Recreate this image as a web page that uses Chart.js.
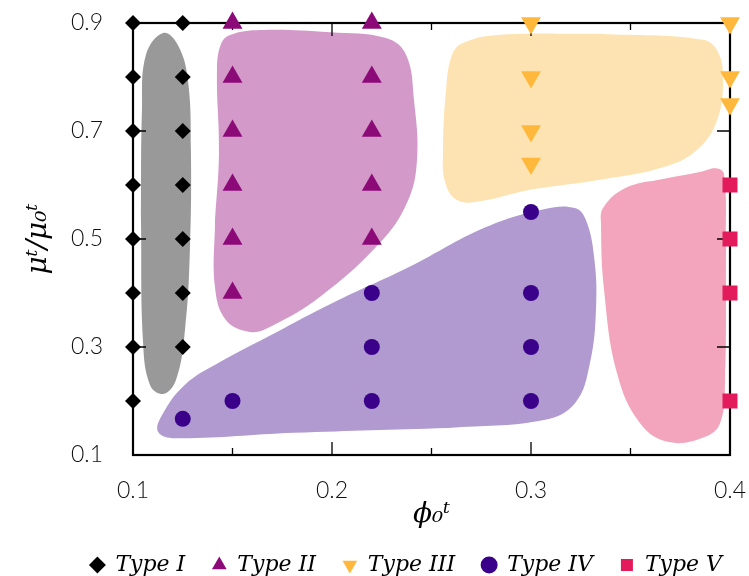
<!DOCTYPE html>
<html>
<head>
<meta charset="utf-8">
<script src="https://cdn.jsdelivr.net/npm/chart.js@4/dist/chart.umd.min.js"></script>
<style>
  html, body { margin: 0; padding: 0; background: #fff; overflow: hidden; }
  #wrap { width: 749px; height: 576px; position: relative; }
</style>
</head>
<body>
<div id="wrap"><canvas id="c"></canvas></div>
<script>
// ---- series (marker) data ----
const seriesNames = ['Type I', 'Type II', 'Type III', 'Type IV', 'Type V'];

const typeIX = [0.1, 0.1, 0.1, 0.1, 0.1, 0.1, 0.1, 0.1, 0.125, 0.125, 0.125, 0.125, 0.125, 0.125, 0.125];
const typeIY = [0.9, 0.8, 0.7, 0.6, 0.5, 0.4, 0.3, 0.2, 0.9, 0.8, 0.7, 0.6, 0.5, 0.4, 0.3];

const typeIIX = [0.15, 0.15, 0.15, 0.15, 0.15, 0.15, 0.22, 0.22, 0.22, 0.22, 0.22];
const typeIIY = [0.9, 0.8, 0.7, 0.6, 0.5, 0.4, 0.9, 0.8, 0.7, 0.6, 0.5];

const typeIIIX = [0.3, 0.3, 0.3, 0.3, 0.4, 0.4, 0.4];
const typeIIIY = [0.9, 0.8, 0.7, 0.64, 0.9, 0.8, 0.75];

const typeIVX = [0.125, 0.15, 0.22, 0.22, 0.22, 0.3, 0.3, 0.3, 0.3];
const typeIVY = [0.167, 0.2, 0.4, 0.3, 0.2, 0.55, 0.4, 0.3, 0.2];

const typeVX = [0.4, 0.4, 0.4, 0.4];
const typeVY = [0.6, 0.5, 0.4, 0.2];

// ---- shaded region outlines (data coordinates) ----
const regionIX = [0.1040, 0.1045, 0.1065, 0.1151, 0.1226, 0.1276, 0.1291, 0.1286, 0.1261, 0.1216, 0.1151, 0.1085, 0.1050, 0.1040];
const regionIY = [0.535, 0.739, 0.841, 0.8815, 0.859, 0.794, 0.665, 0.480, 0.331, 0.239, 0.213, 0.230, 0.313, 0.535];

const regionIIX = [0.1412, 0.1432, 0.1422, 0.1442, 0.1487, 0.1638, 0.199, 0.2271, 0.2372, 0.2412, 0.2427, 0.2377, 0.2241, 0.194, 0.1688, 0.1588, 0.1467, 0.1412, 0.1412];
const regionIIY = [0.535, 0.659, 0.813, 0.861, 0.8778, 0.887, 0.883, 0.872, 0.841, 0.757, 0.646, 0.567, 0.493, 0.393, 0.337, 0.328, 0.350, 0.411, 0.535];

const regionIIIX = [0.3347, 0.3864, 0.3940, 0.3965, 0.3935, 0.3834, 0.3663, 0.3332, 0.2995, 0.2744, 0.2628, 0.2568, 0.2558, 0.2573, 0.2603, 0.2658, 0.2829, 0.3347];
const regionIIIY = [0.880, 0.869, 0.846, 0.794, 0.720, 0.665, 0.633, 0.609, 0.591, 0.570, 0.572, 0.606, 0.665, 0.776, 0.841, 0.863, 0.878, 0.880];

const regionIVX = [0.2583, 0.3065, 0.3221, 0.3296, 0.3327, 0.3317, 0.3276, 0.3221, 0.3070, 0.2774, 0.2387, 0.2, 0.1714, 0.1437, 0.1261, 0.1146, 0.1126, 0.1211, 0.1809, 0.2583];
const regionIVY = [0.150, 0.165, 0.196, 0.270, 0.374, 0.467, 0.535, 0.5574, 0.5556, 0.522, 0.448, 0.381, 0.326, 0.272, 0.230, 0.174, 0.143, 0.131, 0.141, 0.150];

const regionVX = [0.3980, 0.3975, 0.3950, 0.3869, 0.3693, 0.3548, 0.3432, 0.3367, 0.3352, 0.3362, 0.3472, 0.3663, 0.3849, 0.3930, 0.3970, 0.3980];
const regionVY = [0.480, 0.239, 0.159, 0.133, 0.124, 0.159, 0.252, 0.406, 0.526, 0.5574, 0.594, 0.611, 0.624, 0.631, 0.620, 0.480];

// ---- axes ----
const xTickValues = [0.1, 0.2, 0.3, 0.4];
const xMinorTickValues = [0.15, 0.25, 0.35];
const yTickValues = [0.1, 0.3, 0.5, 0.7, 0.9];
const xTitle = 'ϕ₀ᵗ';
const yTitle = 'μᵗ/μ₀ᵗ';

const toPts = (xs, ys) => xs.map((x, i) => ({ x: x, y: ys[i] }));

const markerColors = ['#000000', '#8c0a78', '#ffb83c', '#3a008a', '#e31a5c'];
const regionColors = ['#999999', '#d399c9', '#fde3b1', '#b09ad0', '#f2a5bd'];

function region(xs, ys, color) {
  return {
    type: 'line',
    data: toPts(xs, ys),
    showLine: true,
    fill: 'shape',
    backgroundColor: color,
    borderColor: 'rgba(0,0,0,0)',
    borderWidth: 0,
    pointRadius: 0,
    pointHoverRadius: 0,
    tension: 0.4,
    order: 10
  };
}
function markers(label, xs, ys, color, style, radius, rotation) {
  return {
    type: 'scatter',
    label: label,
    data: toPts(xs, ys),
    backgroundColor: color,
    borderColor: color,
    borderWidth: 0,
    pointStyle: style,
    pointRadius: radius,
    pointHoverRadius: radius,
    pointRotation: rotation,
    clip: false,
    order: 0
  };
}

const framePlugin = {
  id: 'frameTicks',
  beforeDatasetsDraw(chart) { chart.$frameDone = false; },
  beforeDatasetDraw(chart, args) {
    if (chart.$frameDone || chart.data.datasets[args.index].type !== 'scatter') return;
    chart.$frameDone = true;
    const { ctx, chartArea: a, scales } = chart;
    const xs = scales.x, ys = scales.y;
    ctx.save();
    ctx.strokeStyle = '#000';
    ctx.lineWidth = 1.3;
    ctx.beginPath();
    xTickValues.forEach(v => {
      const p = xs.getPixelForValue(v);
      ctx.moveTo(p, a.bottom); ctx.lineTo(p, a.bottom - 13);
      ctx.moveTo(p, a.top); ctx.lineTo(p, a.top + 13);
    });
    xMinorTickValues.forEach(v => {
      const p = xs.getPixelForValue(v);
      ctx.moveTo(p, a.bottom); ctx.lineTo(p, a.bottom - 7);
      ctx.moveTo(p, a.top); ctx.lineTo(p, a.top + 7);
    });
    yTickValues.forEach(v => {
      const p = ys.getPixelForValue(v);
      ctx.moveTo(a.left, p); ctx.lineTo(a.left + 13, p);
      ctx.moveTo(a.right, p); ctx.lineTo(a.right - 13, p);
    });
    ctx.stroke();
    ctx.lineWidth = 2.2;
    ctx.strokeRect(a.left, a.top, a.right - a.left, a.bottom - a.top);
    ctx.restore();
  }
};

const tickFont = { family: 'Lato', size: 23, weight: '300' };
const mathFont = { family: 'DejaVu Serif', size: 28, style: 'italic' };

new Chart(document.getElementById('c'), {
  type: 'scatter',
  data: {
    datasets: [
      region(regionIX, regionIY, regionColors[0]),
      region(regionIIX, regionIIY, regionColors[1]),
      region(regionIIIX, regionIIIY, regionColors[2]),
      region(regionIVX, regionIVY, regionColors[3]),
      region(regionVX, regionVY, regionColors[4]),
      markers(seriesNames[0], typeIX, typeIY, markerColors[0], 'rectRot', 8, 0),
      markers(seriesNames[1], typeIIX, typeIIY, markerColors[1], 'triangle', 11.5, 0),
      markers(seriesNames[2], typeIIIX, typeIIIY, markerColors[2], 'triangle', 11.5, 180),
      markers(seriesNames[3], typeIVX, typeIVY, markerColors[3], 'circle', 8, 0),
      markers(seriesNames[4], typeVX, typeVY, markerColors[4], 'rect', 10.6, 0)
    ]
  },
  options: {
    responsive: true,
    maintainAspectRatio: false,
    animation: false,
    devicePixelRatio: 1,
    layout: { padding: { top: 23, left: 0, right: 0, bottom: 0 } },
    plugins: {
      tooltip: { enabled: false },
      legend: {
        position: 'bottom',
        align: 'end',
        maxHeight: 49,
        labels: {
          usePointStyle: true,
          boxWidth: 14,
          boxHeight: 12,
          padding: 27,
          color: '#000',
          font: { family: 'DejaVu Serif', size: 22, style: 'italic' },
          filter: (item) => item.datasetIndex >= 5
        }
      }
    },
    scales: {
      x: {
        type: 'linear',
        min: 0.1, max: 0.4,
        afterBuildTicks: (s) => { s.ticks = xTickValues.map(v => ({ value: v })); },
        afterFit: (s) => { s.height = 72; s.paddingRight = 19; s.paddingLeft = 0; },
        grid: { display: false, drawTicks: false },
        border: { display: false },
        ticks: { font: tickFont, color: '#111', padding: 22, maxRotation: 0, callback: (v) => Number(v).toFixed(1) },
        title: { display: true, text: xTitle, font: mathFont, color: '#000', padding: { top: 0, bottom: -5 } }
      },
      y: {
        type: 'linear',
        min: 0.1, max: 0.9,
        afterBuildTicks: (s) => { s.ticks = yTickValues.map(v => ({ value: v })); },
        afterFit: (s) => { s.width = 133; s.paddingTop = 0; s.paddingBottom = 0; },
        grid: { display: false, drawTicks: false },
        border: { display: false },
        ticks: { font: tickFont, color: '#111', padding: 30, callback: (v) => Number(v).toFixed(1) },
        title: { display: true, text: yTitle, font: mathFont, color: '#000', padding: { top: 22, bottom: 0 } }
      }
    }
  },
  plugins: [framePlugin]
});
</script>
</body>
</html>
